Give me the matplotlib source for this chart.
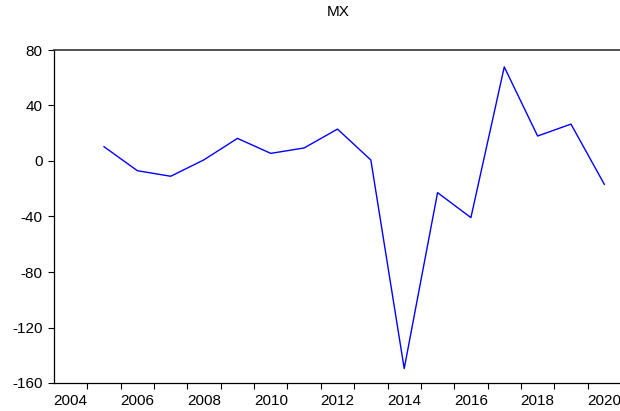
import numpy as np
import matplotlib
matplotlib.use("Agg")
import matplotlib.pyplot as plt

plt.rcParams['font.family'] = ['Liberation Sans', 'DejaVu Sans']

# annual series, 2005-2020
years = np.arange(2005, 2021)
mx = [10.3, -7.0, -11.0, 0.9, 16.3, 5.5, 9.4, 23.0,
      0.7, -149.6, -22.8, -40.8, 67.8, 18.0, 26.6, -16.8]

y_ticks = [-160, -120, -80, -40, 0, 40, 80]
x_labels = np.arange(2004, 2021, 2)

fig = plt.figure(figsize=(6.2, 4.11), dpi=100)
ax = fig.add_axes([54 / 620, 1 - 383 / 411, 567 / 620, 333 / 411])

ax.plot(years, mx, color='#0000ff', lw=1.0)

ax.set_xlim(2003.5, 2020.5)
ax.set_ylim(-160, 80)

ax.set_yticks(y_ticks)
ax.set_yticklabels([str(v) for v in y_ticks])
ax.tick_params(axis='y', direction='out', length=4.3, width=0.8,
               pad=4.0, labelsize=11)

# labels on even years, tick marks between observations
ax.set_xticks(x_labels)
ax.set_xticklabels([str(v) for v in x_labels])
ax.set_xticks(np.arange(2004.5, 2020.5, 1), minor=True)
ax.tick_params(axis='x', which='major', length=0, pad=8, labelsize=11)
ax.tick_params(axis='x', which='minor', direction='out', length=4, width=0.8)

for side in ['left', 'bottom']:
    ax.spines[side].set_color('black')
    ax.spines[side].set_linewidth(0.9)
ax.spines['top'].set_color('#333333')
ax.spines['top'].set_linewidth(1.2)
ax.spines['right'].set_visible(False)

fig.text(338 / 620, 1 - 12 / 411, "MX", ha='center', va='center', fontsize=11)

fig.savefig("out.png", dpi=100)
